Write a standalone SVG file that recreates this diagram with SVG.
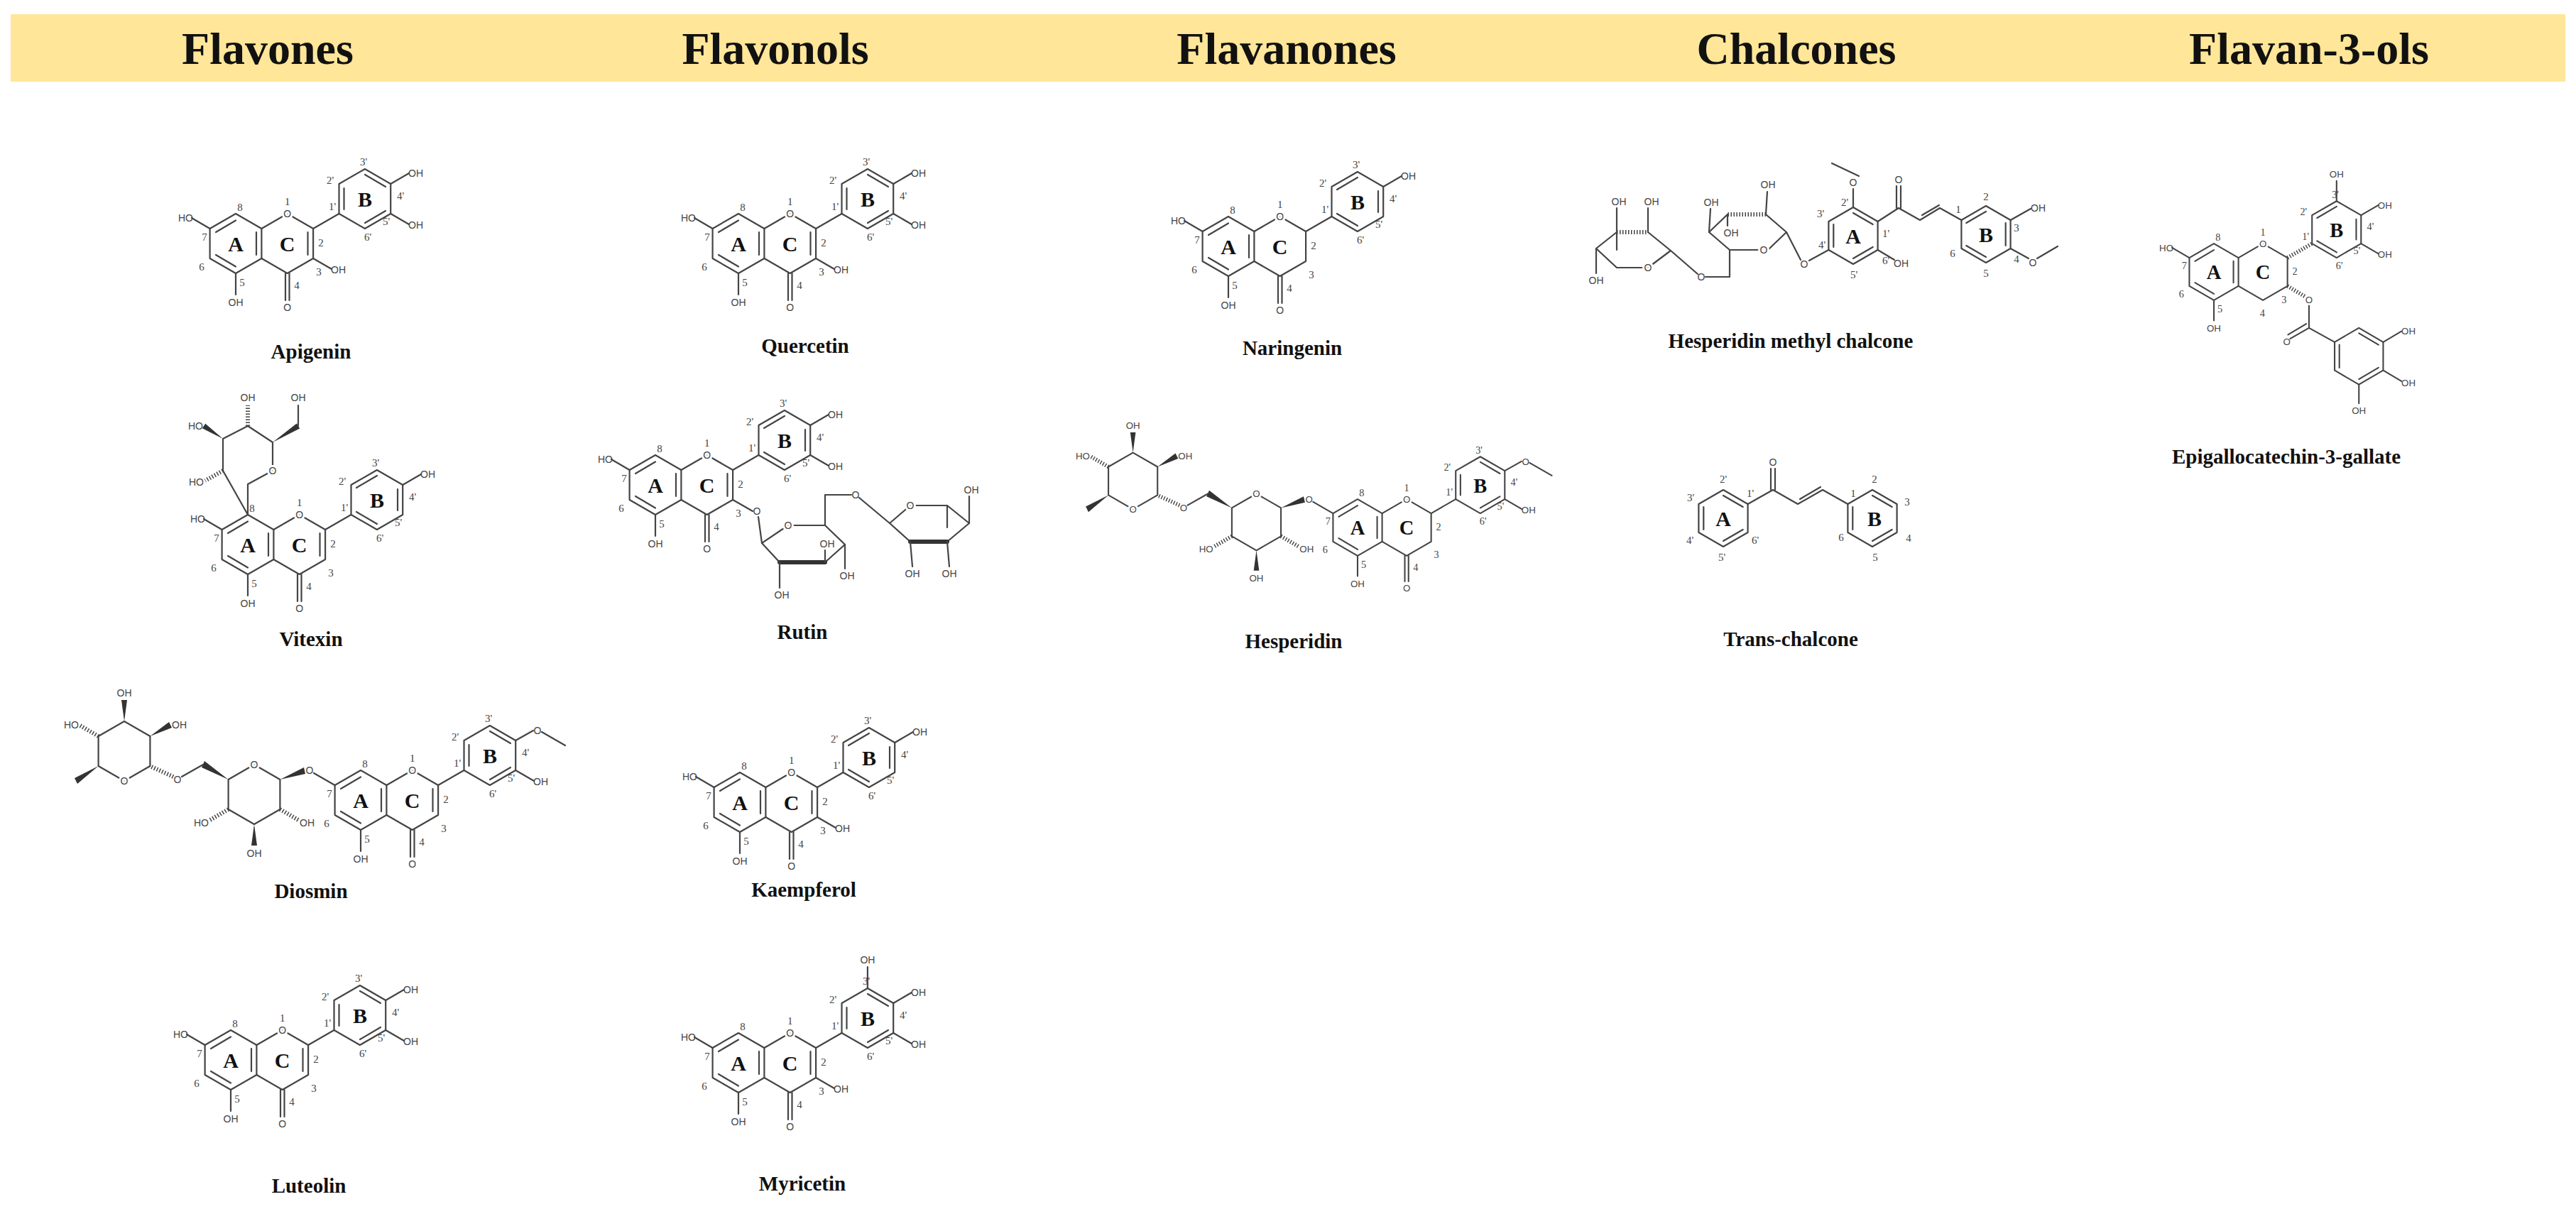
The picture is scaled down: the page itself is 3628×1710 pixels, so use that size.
<svg xmlns="http://www.w3.org/2000/svg" xmlns:xlink="http://www.w3.org/1999/xlink" width="3628" height="1710" viewBox="0 0 3628 1710">
<style>
.b{fill:none;stroke:#444;stroke-width:2.2;stroke-linejoin:round;stroke-linecap:round}
.bb{fill:none;stroke:#333;stroke-width:6;stroke-linecap:round}
.hs{fill:none;stroke:#444;stroke-width:6;stroke-dasharray:1.5 2.5}
.w{fill:#333;stroke:none}
.n{font-family:"Liberation Serif",serif;font-size:15px;fill:#444;text-anchor:middle}
.h{font-family:"Liberation Sans",sans-serif;font-size:14px;fill:#444}
.m{text-anchor:middle}.s{text-anchor:start}.e{text-anchor:end}
.o{stroke:#fff;stroke-width:6;paint-order:stroke}
.r{font-family:"Liberation Serif",serif;font-weight:bold;font-size:30px;fill:#111;text-anchor:middle}
.nm{font-family:"Liberation Serif",serif;font-weight:bold;font-size:29px;fill:#111;text-anchor:middle}
.t{font-family:"Liberation Serif",serif;font-weight:bold;font-size:64px;fill:#111;text-anchor:middle}
</style>
<defs>
<g id="ringA">
<path class="b" d="M0,-42 L36.4,-21 L36.4,21 L0,42 L-36.4,21 L-36.4,-21 Z"/>
<path class="b" d="M-28,-16 L0,-32.5 M29,-16 L29,16 M0,32.5 L-28,16"/>
<text class="r" x="0" y="11">A</text>
<text class="n" x="6" y="-46">8</text><text class="n" x="-44" y="-4">7</text><text class="n" x="-48" y="38">6</text><text class="n" x="9" y="60">5</text>
</g>
<g id="ringC">
<path class="b" d="M36.4,-21 L72.7,-42 L109.1,-21 L109.1,21 L72.7,42 L36.4,21"/>
<text class="h m o" x="72.7" y="-37">O</text>
<text class="n" x="72.7" y="-54">1</text>
<text class="r" x="72.7" y="11">C</text>
<path class="b" d="M70,42 L70,80 M75.5,42 L75.5,80"/>
<text class="h m" x="72.7" y="95">O</text>
<text class="n" x="86" y="64">4</text><text class="n" x="120" y="4">2</text><text class="n" x="117" y="45">3</text>
</g>
<path id="d23" class="b" d="M101.5,-16 L101.5,16"/>
<path id="lnk" class="b" d="M109.1,-21 L145.5,-42"/>
<g id="ringB">
<path class="b" d="M145.5,-42 L145.5,-84 L181.9,-105 L218.2,-84 L218.2,-42 L181.9,-21 Z"/>
<text class="r" x="181.9" y="-52">B</text>
<text class="n" x="136" y="-47">1'</text><text class="n" x="133" y="-84">2'</text><text class="n" x="180" y="-110">3'</text><text class="n" x="232" y="-62">4'</text><text class="n" x="212" y="-26">5'</text><text class="n" x="186" y="-4">6'</text>
</g>
<path id="Bx" class="b" d="M152.5,-48 L152.5,-78 M182,-97 L211,-80 M211,-46 L182,-29"/>
<path id="By" class="b" d="M153,-80 L182,-97 M211,-78 L211,-48 M182,-29 L153,-46"/>
<g id="OH7"><path class="b" d="M-36.4,-21 L-62,-36"/><text class="h e" x="-60" y="-31">HO</text></g>
<g id="OH5"><path class="b" d="M0,42 L0,72"/><text class="h m" x="0" y="88">OH</text></g>
<g id="OH3"><path class="b" d="M109.1,21 L135,36"/><text class="h s" x="134" y="42">OH</text></g>
<g id="OH4p"><path class="b" d="M218.2,-84 L244,-99"/><text class="h s" x="243" y="-94">OH</text></g>
<g id="OH5p"><path class="b" d="M218.2,-42 L244,-27"/><text class="h s" x="243" y="-21">OH</text></g>
<g id="OH3p"><path class="b" d="M181.9,-105 L181.9,-135"/><text class="h m" x="181.9" y="-140">OH</text></g>
<g id="OMe4p"><path class="b" d="M218.2,-84 L243,-98 M255,-96 L288,-77"/><text class="h m" x="249" y="-93">O</text></g>
<g id="rutinoside7">
<path class="b" d="M-36.4,-21 L-66,-38"/><text class="h m" x="-72" y="-37">O</text>
<path class="b" d="M-150,-50 L-113.6,-29 L-113.6,13 L-150,34 L-186.4,13 L-186.4,-29 Z"/><text class="h m o" x="-150" y="-45">O</text>
<polygon class="w" points="-113.6,-29 -80,-46 -78,-37"/>
<polygon class="w" points="-186.4,-29 -220,-55 -224,-46"/>
<path class="b" d="M-222,-50 L-252,-33"/><text class="h m" x="-258" y="-24">O</text>
<path class="hs" d="M-264,-33 L-297,-48"/>
<path class="b" d="M-333,-111 L-296.6,-90 L-296.6,-48 L-333,-27 L-369.4,-48 L-369.4,-90 Z"/><text class="h m o" x="-333" y="-22">O</text>
<polygon class="w" points="-369.4,-48 -403,-31 -399,-23"/>
<path class="hs" d="M-369.4,-90 L-397,-106"/><text class="h e" x="-397" y="-101">HO</text>
<polygon class="w" points="-333,-111 -337,-141 -329,-141"/><text class="h m" x="-333" y="-146">OH</text>
<polygon class="w" points="-296.6,-90 -270,-110 -266,-102"/><text class="h s" x="-266" y="-101">OH</text>
<path class="hs" d="M-186.4,13 L-214,29"/><text class="h e" x="-214" y="37">HO</text>
<polygon class="w" points="-150,34 -154,64 -146,64"/><text class="h m" x="-150" y="80">OH</text>
<path class="hs" d="M-113.6,13 L-86,29"/><text class="h s" x="-86" y="37">OH</text>
</g>
</defs>

<rect x="15" y="20" width="3598" height="95" fill="#FFE699"/>
<g id="titles">
<text class="t" x="377" y="90">Flavones</text>
<text class="t" x="1092" y="90">Flavonols</text>
<text class="t" x="1812" y="90">Flavanones</text>
<text class="t" x="2530" y="90">Chalcones</text>
<text class="t" x="3252" y="90">Flavan-3-ols</text>
</g>

<g id="connectors"></g>

<g id="apigenin">
<g transform="translate(332,343)"><use href="#ringA"/><use href="#ringC"/><use href="#d23"/><use href="#lnk"/><use href="#ringB"/><use href="#Bx"/><use href="#OH7"/><use href="#OH5"/><use href="#OH3"/><use href="#OH4p"/><use href="#OH5p"/></g>
<text class="nm" x="438" y="505">Apigenin</text>
</g>

<g id="vitexin">
<g transform="translate(349,767)"><use href="#ringA"/><use href="#ringC"/><use href="#d23"/><use href="#lnk"/><use href="#ringB"/><use href="#By"/><use href="#OH7"/><use href="#OH5"/><use href="#OH4p"/>
<path class="b" d="M0,-42 L0,-85 L35,-104 L35,-144 L0,-167 L-35,-149 L-35,-104 Z"/>
<text class="h m o" x="35" y="-99">O</text>
<polygon class="w" points="35,-144 73.2,-163.6 68.8,-170.4"/>
<path class="b" d="M71,-167 L71,-196"/><text class="h m" x="71" y="-202">OH</text>
<path class="hs" d="M0,-167 L0,-196"/><text class="h m" x="0" y="-202">OH</text>
<polygon class="w" points="-35,-149 -59.8,-170.3 -64.2,-163.7"/><text class="h e" x="-63" y="-162">HO</text>
<path class="hs" d="M-35,-104 L-60,-90"/><text class="h e" x="-62" y="-83">HO</text>
</g>
<text class="nm" x="438" y="910">Vitexin</text>
</g>

<g id="diosmin">
<g transform="translate(508,1127)"><use href="#ringA"/><use href="#ringC"/><use href="#d23"/><use href="#lnk"/><use href="#ringB"/><use href="#Bx"/><use href="#OH5"/><use href="#OMe4p"/><use href="#OH5p"/><use href="#rutinoside7"/></g>
<text class="nm" x="438" y="1265">Diosmin</text>
</g>

<g id="luteolin">
<g transform="translate(325,1493)"><use href="#ringA"/><use href="#ringC"/><use href="#d23"/><use href="#lnk"/><use href="#ringB"/><use href="#Bx"/><use href="#OH7"/><use href="#OH5"/><use href="#OH4p"/><use href="#OH5p"/></g>
<text class="nm" x="435" y="1680">Luteolin</text>
</g>

<g id="quercetin">
<g transform="translate(1040,343)"><use href="#ringA"/><use href="#ringC"/><use href="#d23"/><use href="#lnk"/><use href="#ringB"/><use href="#Bx"/><use href="#OH7"/><use href="#OH5"/><use href="#OH3"/><use href="#OH4p"/><use href="#OH5p"/></g>
<text class="nm" x="1134" y="497">Quercetin</text>
</g>

<g id="rutin">
<g transform="translate(923,683)"><use href="#ringA"/><use href="#ringC"/><use href="#d23"/><use href="#lnk"/><use href="#ringB"/><use href="#By"/><use href="#OH7"/><use href="#OH5"/><use href="#OH4p"/><use href="#OH5p"/>
<path class="b" d="M109.1,21 L137,37"/><text class="h m" x="143" y="42">O</text>
<path class="b" d="M145,45 L150,82 L187,57 L239,57 L267,84 M150,82 L175,109 M239,109 L267,84"/>
<path class="bb" d="M175,109 L239,109"/>
<text class="h m o" x="187" y="62">O</text>
<path class="b" d="M175,109 L175,145"/><text class="h m" x="178" y="160">OH</text>
<path class="b" d="M239,109 L239,92"/><text class="h m" x="242" y="88">OH</text>
<path class="b" d="M267,84 L267,118"/><text class="h m" x="270" y="133">OH</text>
<path class="b" d="M239,57 L239,14 L276,14"/><text class="h m" x="282" y="19">O</text>
<path class="b" d="M287,18 L330,54 L359,29 L411,29 L442,54 M330,54 L359,80 M411,80 L442,54 M411,29 L411,60"/>
<path class="bb" d="M359,80 L411,80"/>
<text class="h m o" x="359" y="34">O</text>
<path class="b" d="M359,80 L362,115 M411,80 L414,115 M442,54 L442,16"/>
<text class="h m" x="362" y="130">OH</text><text class="h m" x="414" y="130">OH</text><text class="h m" x="445" y="12">OH</text>
</g>
<text class="nm" x="1130" y="900">Rutin</text>
</g>

<g id="kaempferol">
<g transform="translate(1042,1130)"><use href="#ringA"/><use href="#ringC"/><use href="#d23"/><use href="#lnk"/><use href="#ringB"/><use href="#By"/><use href="#OH7"/><use href="#OH5"/><use href="#OH3"/><use href="#OH4p"/></g>
<text class="nm" x="1132" y="1263">Kaempferol</text>
</g>

<g id="myricetin">
<g transform="translate(1040,1497)"><use href="#ringA"/><use href="#ringC"/><use href="#d23"/><use href="#lnk"/><use href="#ringB"/><use href="#Bx"/><use href="#OH7"/><use href="#OH5"/><use href="#OH3"/><use href="#OH3p"/><use href="#OH4p"/><use href="#OH5p"/></g>
<text class="nm" x="1130" y="1677">Myricetin</text>
</g>

<g id="naringenin">
<g transform="translate(1730,347)"><use href="#ringA"/><use href="#ringC"/><use href="#lnk"/><use href="#ringB"/><use href="#By"/><use href="#OH7"/><use href="#OH5"/><use href="#OH4p"/></g>
<text class="nm" x="1820" y="500">Naringenin</text>
</g>

<g id="hesperidin">
<g transform="translate(1912,743) scale(0.95)"><use href="#ringA"/><use href="#ringC"/><use href="#lnk"/><use href="#ringB"/><use href="#Bx"/><use href="#OH5"/><use href="#OMe4p"/><use href="#OH5p"/><use href="#rutinoside7"/></g>
<text class="nm" x="1822" y="913">Hesperidin</text>
</g>

<g id="hesperidin-methyl-chalcone">
<path class="b" d="M2610,292 L2644.6,312 L2644.6,352 L2610,372 L2575.4,352 L2575.4,312 Z"/>
<path class="b" d="M2610,300 L2637.7,316 M2582.3,316 L2582.3,348 M2637.7,348 L2610,364"/>
<text class="r" x="2610" y="343">A</text>
<path class="b" d="M2610,292 L2610,266 M2618,248 L2580,230"/><text class="h m" x="2610" y="262">O</text>
<path class="b" d="M2644.6,312 L2674,293 M2671,293 L2671,262 M2677,293 L2677,262 M2674,293 L2704,310 L2732,293 L2762.4,310 M2707,303 L2731,289"/>
<text class="h m" x="2674" y="258">O</text>
<path class="b" d="M2797,290 L2831.6,310 L2831.6,350 L2797,370 L2762.4,350 L2762.4,310 Z"/>
<path class="b" d="M2769.3,314 L2797,298 M2824.7,314 L2824.7,346 M2797,362 L2769.3,346"/>
<text class="r" x="2797" y="341">B</text>
<path class="b" d="M2831.6,310 L2860,294"/><text class="h s" x="2860" y="298">OH</text>
<path class="b" d="M2831.6,350 L2857,364 M2869,364 L2898,347"/><text class="h m" x="2863" y="375">O</text>
<path class="b" d="M2644.6,352 L2668,366"/><text class="h s" x="2667" y="376">OH</text>
<path class="b" d="M2575.4,352 L2548,367"/><text class="h m" x="2541" y="377">O</text>
<text class="n" x="2598" y="290">2'</text><text class="n" x="2564" y="306">3'</text><text class="n" x="2566" y="350">4'</text><text class="n" x="2611" y="392">5'</text><text class="n" x="2656" y="372">6'</text><text class="n" x="2656" y="334">1'</text>
<text class="n" x="2758" y="300">1</text><text class="n" x="2797" y="282">2</text><text class="n" x="2840" y="326">3</text><text class="n" x="2840" y="370">4</text><text class="n" x="2797" y="390">5</text><text class="n" x="2750" y="362">6</text>
<path class="b" d="M2516,327 L2487,302 M2433,302 L2407,327 L2436,352 L2478,352 M2490,352 L2516,327 L2536,366"/>
<path class="hs" d="M2487,302 L2433,302"/>
<text class="h m o" x="2484" y="357">O</text>
<path class="b" d="M2487,302 L2489,270 M2433,302 L2433,318 M2407,327 L2409,294 M2436,352 L2436,390 L2402,390"/>
<text class="h m" x="2490" y="265">OH</text><text class="h m" x="2438" y="333">OH</text><text class="h m" x="2410" y="290">OH</text><text class="h m" x="2396" y="395">O</text>
<path class="b" d="M2391,386 L2353,353 L2321,377 L2277,377 L2248,350 L2277,327 M2321,327 L2353,353"/>
<path class="hs" d="M2277,327 L2321,327"/>
<text class="h m o" x="2321" y="382">O</text>
<path class="b" d="M2277,327 L2277,293 M2321,327 L2321,293 M2248,350 L2248,385 M2277,327 L2277,352"/>
<text class="h m" x="2280" y="289">OH</text><text class="h m" x="2326" y="289">OH</text><text class="h m" x="2248" y="400">OH</text>
<text class="nm" x="2522" y="490">Hesperidin methyl chalcone</text>
</g>

<g id="trans-chalcone">
<path class="b" d="M2427,690 L2461.6,710 L2461.6,750 L2427,770 L2392.4,750 L2392.4,710 Z"/>
<path class="b" d="M2427,698 L2454.7,714 M2399.3,714 L2399.3,746 M2454.7,746 L2427,762"/>
<text class="r" x="2427" y="741">A</text>
<path class="b" d="M2461.6,710 L2497,690 M2494,690 L2494,660 M2500,690 L2500,660 M2497,690 L2532,710 L2567,690 L2602.4,710 M2535,703 L2564,686"/>
<text class="h m" x="2497" y="656">O</text>
<path class="b" d="M2637,690 L2671.6,710 L2671.6,750 L2637,770 L2602.4,750 L2602.4,710 Z"/>
<path class="b" d="M2609.3,714 L2609.3,746 M2637,698 L2664.7,714 M2664.7,746 L2637,762"/>
<text class="r" x="2640" y="741">B</text>
<text class="n" x="2427" y="680">2'</text><text class="n" x="2381" y="706">3'</text><text class="n" x="2380" y="766">4'</text><text class="n" x="2425" y="790">5'</text><text class="n" x="2472" y="766">6'</text><text class="n" x="2465" y="700">1'</text>
<text class="n" x="2610" y="700">1</text><text class="n" x="2640" y="680">2</text><text class="n" x="2686" y="712">3</text><text class="n" x="2688" y="763">4</text><text class="n" x="2641" y="790">5</text><text class="n" x="2593" y="762">6</text>
<text class="nm" x="2522" y="910">Trans-chalcone</text>
</g>

<g id="epigallocatechin-3-gallate">
<g transform="translate(3118,383) scale(0.95)"><use href="#ringA"/><use href="#ringB"/><use href="#By"/><use href="#OH7"/><use href="#OH5"/><use href="#OH3p"/><use href="#OH4p"/><use href="#OH5p"/>
<path class="b" d="M36.4,-21 L72.7,-42 L109.1,-21 L109.1,21 L72.7,42 L36.4,21"/>
<text class="h m o" x="72.7" y="-37">O</text><text class="n" x="72.7" y="-54">1</text>
<text class="r" x="72.7" y="11">C</text>
<text class="n" x="120" y="4">2</text><text class="n" x="104" y="46">3</text><text class="n" x="72" y="66">4</text>
<path class="hs" d="M109.1,-21 L145.5,-42"/>
<path class="hs" d="M109.1,21 L136,37"/>
<text class="h m" x="141" y="46">O</text>
<path class="b" d="M141,50 L141,83 L179,104 M141,83 L113,99 M137,77 L110,93"/>
<text class="h m" x="108" y="108">O</text>
<path class="b" d="M215,83 L251,104 L251,146 L215,167 L179,146 L179,104 Z M186,108 L186,142 M215,91 L244,108 M244,142 L215,159"/>
<path class="b" d="M251,104 L278,88 M251,146 L278,162 M215,167 L215,195"/>
<text class="h s" x="278" y="93">OH</text><text class="h s" x="278" y="169">OH</text><text class="h m" x="215" y="211">OH</text>
</g>
<text class="nm" x="3220" y="653">Epigallocatechin-3-gallate</text>
</g>
</svg>
